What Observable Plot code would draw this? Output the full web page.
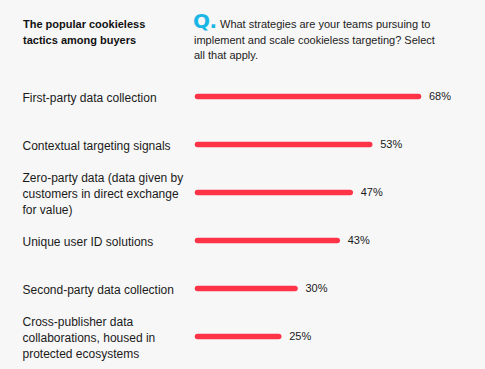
<!DOCTYPE html>
<html>
<head>
<meta charset="utf-8">
<script src="https://cdn.jsdelivr.net/npm/d3@7"></script>
<script src="https://cdn.jsdelivr.net/npm/@observablehq/plot@0.6"></script>
<style>
  html, body { margin: 0; padding: 0; background: #f7f7f7; }
  #wrap { position: relative; width: 485px; height: 369px; background: #f7f7f7; font-family: "Liberation Sans", Arial, sans-serif; overflow: hidden; }
  #title { position: absolute; left: 23px; top: 17px; width: 160px; font-weight: 900; font-size: 11px; line-height: 15.5px; color: #111; }
  #q { position: absolute; left: 193px; top: 11px; color: #19b6e6; font-weight: 900; font-size: 20px; line-height: 20px; letter-spacing: -0.5px; font-family: "DejaVu Sans", sans-serif; }
  .ql { position: absolute; font-size: 11px; line-height: 15.5px; color: #222; white-space: nowrap; }
  #chart { position: absolute; left: 0; top: 0; }
</style>
</head>
<body>
<div id="wrap">
  <div id="title">The popular cookieless<br>tactics among buyers</div>
  <div id="q">Q.</div>
  <div class="ql" style="left:220px; top:17px;">What strategies are your teams pursuing to</div>
  <div class="ql" style="left:194px; top:32.5px;">implement and scale cookieless targeting? Select</div>
  <div class="ql" style="left:194px; top:48px;">all that apply.</div>
  <div id="chart"></div>
</div>
<script>
const categories = [
  "First-party data collection",
  "Contextual targeting signals",
  "Zero-party data (data given by\ncustomers in direct exchange\nfor value)",
  "Unique user ID solutions",
  "Second-party data collection",
  "Cross-publisher data\ncollaborations, housed in\nprotected ecosystems"
];
const values = [68, 53, 47, 43, 30, 25];
const valueLabels = ["68%", "53%", "47%", "43%", "30%", "25%"];

const data = categories.map((c, i) => ({ category: c, value: values[i], label: valueLabels[i] }));

const chart = Plot.plot({
  width: 485,
  height: 369,
  marginLeft: 0,
  marginRight: 0,
  marginTop: 0,
  marginBottom: 0,
  style: { background: "transparent", fontFamily: "Liberation Sans, Arial, sans-serif" },
  x: { domain: [0, 100], range: [197.5, 197.5 + 325], axis: null },
  y: { type: "point", domain: categories, range: [95, 336], padding: 0, axis: null },
  marks: [
    Plot.ruleY(data, { y: "category", x1: 0, x2: "value", stroke: "#fd3347", strokeWidth: 5.5, strokeLinecap: "round" }),
    Plot.text(data, { y: "category", text: "category", frameAnchor: "left", dx: 22, textAnchor: "start", fontSize: 12, lineHeight: 1.33, fill: "#1a1a1a" }),
    Plot.text(data, { y: "category", x: "value", text: "label", dx: 10, textAnchor: "start", fontSize: 11, fill: "#1a1a1a", style: "letter-spacing:0.6px" })
  ]
});
document.getElementById("chart").appendChild(chart);
</script>
</body>
</html>
